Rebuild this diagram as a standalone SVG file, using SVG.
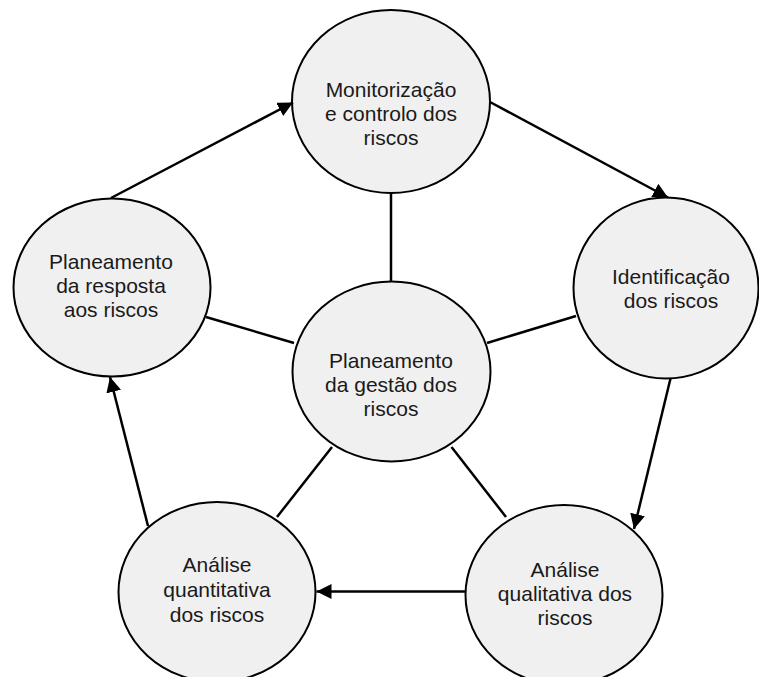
<svg xmlns="http://www.w3.org/2000/svg" width="759" height="677" viewBox="0 0 759 677">
<style>
.node ellipse{fill:#f0f0f0;stroke:#000;stroke-width:2}
.node text{font-family:"Liberation Sans",Arial,sans-serif;font-size:21px;fill:#1a1a1a;text-anchor:middle}
.conn line{stroke:#000;stroke-width:2.5;fill:none}
.arrow{marker-end:url(#ah)}
</style>
<defs>
<marker id="ah" markerUnits="userSpaceOnUse" markerWidth="16" markerHeight="16" refX="15" refY="7.5" orient="auto">
<path d="M0,0 L15,7.5 L0,15 z" fill="#000"/>
</marker>
</defs>
<rect width="759" height="677" fill="#fff"/>
<g id="n-monitorizacao" class="node">
<ellipse cx="391" cy="101.5" rx="99" ry="91.5"/>
<text x="391" y="97">Monitorização</text>
<text x="391" y="121">e controlo dos</text>
<text x="391" y="145">riscos</text>
</g>
<g id="n-identificacao" class="node">
<ellipse cx="666" cy="288" rx="92.5" ry="90.5"/>
<text x="671" y="284">Identificação</text>
<text x="671" y="308">dos riscos</text>
</g>
<g id="n-resposta" class="node">
<ellipse cx="112" cy="287.5" rx="98.5" ry="89"/>
<text x="111" y="269">Planeamento</text>
<text x="111" y="293">da resposta</text>
<text x="111" y="317">aos riscos</text>
</g>
<g id="n-gestao" class="node">
<ellipse cx="391.5" cy="371.5" rx="99" ry="90"/>
<text x="391" y="368">Planeamento</text>
<text x="391" y="392">da gestão dos</text>
<text x="391" y="416">riscos</text>
</g>
<g id="n-quantitativa" class="node">
<ellipse cx="217" cy="592" rx="98.5" ry="90"/>
<text x="217" y="572">Análise</text>
<text x="217" y="597">quantitativa</text>
<text x="217" y="622">dos riscos</text>
</g>
<g id="n-qualitativa" class="node">
<ellipse cx="564" cy="595" rx="98.5" ry="90"/>
<text x="565" y="577">Análise</text>
<text x="565" y="601">qualitativa dos</text>
<text x="565" y="625">riscos</text>
</g>
<g id="connectors" class="conn">
<line x1="391" y1="193" x2="391" y2="281.5"/>
<line x1="206" y1="317" x2="294" y2="343"/>
<line x1="487" y1="343" x2="576" y2="316"/>
<line x1="332" y1="447" x2="277" y2="517"/>
<line x1="451.5" y1="447" x2="506" y2="517"/>
<line class="arrow" x1="111" y1="198" x2="293" y2="102.5"/>
<line class="arrow" x1="490" y1="102" x2="668" y2="197.5"/>
<line class="arrow" x1="670.5" y1="378.5" x2="634" y2="529"/>
<line class="arrow" x1="465.5" y1="591.5" x2="316.5" y2="591.5"/>
<line class="arrow" x1="148" y1="526" x2="110" y2="377"/>
</g>
</svg>
